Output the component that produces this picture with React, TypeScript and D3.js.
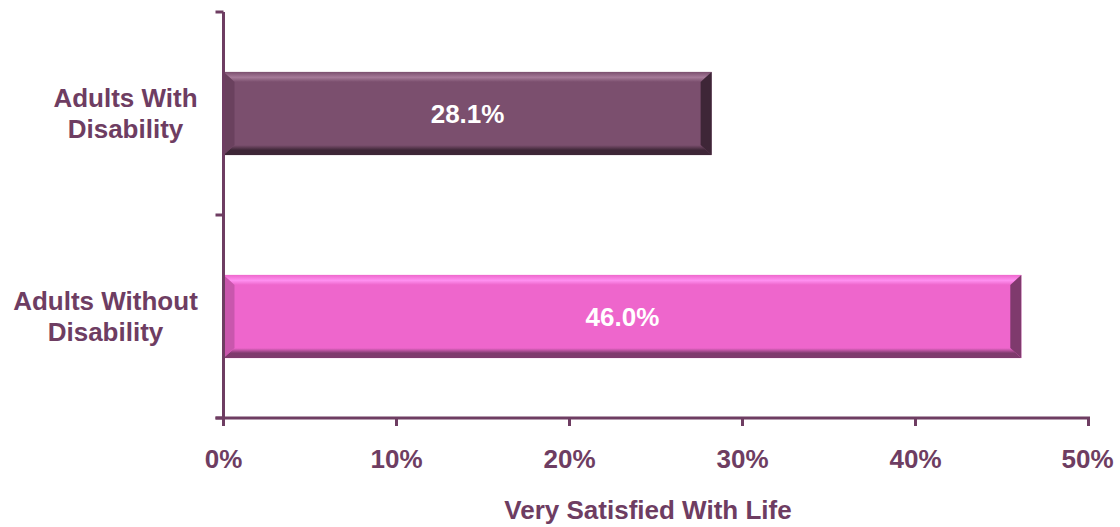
import React from "react";
import * as d3 from "d3";

const categories = ["Adults With Disability", "Adults Without Disability"];
const categoryLines = [["Adults With", "Disability"], ["Adults Without", "Disability"]];
const values = [28.1, 46.0];
const xTicks = [0, 10, 20, 30, 40, 50];
const axisTitle = "Very Satisfied With Life";

const baseColors = ["#7b4f6e", "#ee66cc"];
const lightColors = ["#a57a98", "#ff90f0"];
const darkColors = ["#3e2637", "#7f3a6d"];
const sideLight = ["#6a415e", "#c957ad"];
const labelCenters = [125.5, 105.5];

const W = 1120, H = 527;
const left = 223.5, right = 1088.5, top = 12, bottom = 418;
const textColor = "#6e3d62";
const font = "'Liberation Sans', Arial, sans-serif";
const fs = 26;

export default function App() {
  const x = d3.scaleLinear().domain([0, 50]).range([left, right]);
  const y = d3.scaleBand().domain(categories).range([top, bottom]).paddingInner(0.59).paddingOuter(0.295);
  const bw = 11, bh = 10;
  return (
    <svg width={W} height={H} style={{ position: "absolute", left: 0, top: 0 }}>
      <defs>
        {baseColors.map((c, i) => (
          <linearGradient key={i} id={`topg${i}`} x1="0" y1="0" x2="0" y2="1">
            <stop offset="0" stopColor={c} />
            <stop offset="0.55" stopColor={lightColors[i]} />
            <stop offset="1" stopColor={c} />
          </linearGradient>
        ))}
        {baseColors.map((c, i) => (
          <linearGradient key={i} id={`botg${i}`} x1="0" y1="0" x2="0" y2="1">
            <stop offset="0" stopColor={c} />
            <stop offset="0.5" stopColor={darkColors[i]} />
            <stop offset="1" stopColor={darkColors[i]} />
          </linearGradient>
        ))}
      </defs>
      {categories.map((cat, i) => {
        const x0 = x(0), x1 = x(values[i]) + 2;
        const y0 = y(cat)!, y1 = y0 + y.bandwidth();
        const cy = (y0 + y1) / 2;
        return (
          <g key={cat}>
            <rect x={x0} y={y0} width={x1 - x0} height={y1 - y0} fill={baseColors[i]} />
            <polygon points={`${x0},${y0} ${x1},${y0} ${x1 - bw},${y0 + bh} ${x0 + bw},${y0 + bh}`} fill={`url(#topg${i})`} />
            <polygon points={`${x0},${y1} ${x1},${y1} ${x1 - bw},${y1 - bh} ${x0 + bw},${y1 - bh}`} fill={`url(#botg${i})`} />
            <polygon points={`${x0},${y0} ${x0 + bw},${y0 + bh} ${x0 + bw},${y1 - bh} ${x0},${y1}`} fill={sideLight[i]} />
            <polygon points={`${x1},${y0} ${x1 - bw},${y0 + bh} ${x1 - bw},${y1 - bh} ${x1},${y1}`} fill={darkColors[i]} />
            <text x={(x0 + x1) / 2} y={cy + 9.5} textAnchor="middle" fill="#ffffff" fontFamily={font} fontWeight="bold" fontSize={fs}>
              {values[i].toFixed(1)}%
            </text>
            <text textAnchor="middle" fill={textColor} fontFamily={font} fontWeight="bold" fontSize={fs}>
              <tspan x={labelCenters[i]} y={cy - 6.5}>{categoryLines[i][0]}</tspan>
              <tspan x={labelCenters[i]} y={cy + 24.5}>{categoryLines[i][1]}</tspan>
            </text>
          </g>
        );
      })}
      <line x1={left} x2={left} y1={top} y2={bottom} stroke={textColor} strokeWidth={3} />
      {[top, (top + bottom) / 2, bottom].map((t, i) => (
        <line key={i} x1={left - 8} x2={left} y1={t} y2={t} stroke={textColor} strokeWidth={3} />
      ))}
      <line x1={left - 8} x2={right + 1.5} y1={bottom} y2={bottom} stroke={textColor} strokeWidth={3} />
      {xTicks.map((t) => (
        <g key={t}>
          <line x1={x(t)} x2={x(t)} y1={bottom} y2={bottom + 8} stroke={textColor} strokeWidth={3} />
          <text x={x(t) - (t === 50 ? 1 : 0)} y={468} textAnchor="middle" fill={textColor} fontFamily={font} fontWeight="bold" fontSize={fs}>{t}%</text>
        </g>
      ))}
      <text x={648} y={519} textAnchor="middle" fill={textColor} fontFamily={font} fontWeight="bold" fontSize={fs}>{axisTitle}</text>
    </svg>
  );
}
